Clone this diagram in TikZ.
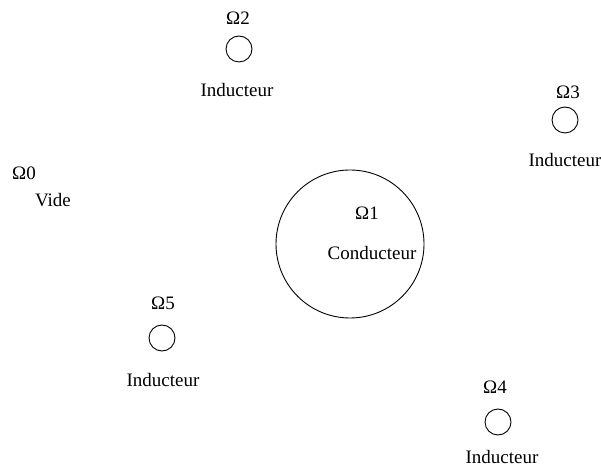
\documentclass[tikz,border=0pt]{standalone}
\usepackage{fontspec}
\setmainfont{Liberation Serif}
\begin{document}
\begin{tikzpicture}[x=1pt,y=1pt,
  lbl/.style={inner sep=0pt,font=\fontsize{19}{21}\selectfont},
  coil/.style={circle,draw,line width=0.9pt,minimum size=26pt,inner sep=0pt},
  body/.style={circle,draw,line width=0.9pt,minimum size=148pt,inner sep=0pt}]
\useasboundingbox (0,0) rectangle (601,468);
% vacuum region
\node[lbl] (o0) at (24,295) {Ω0};
\node[lbl] (v0) at (53,268) {Vide};
% conductor
\node[body] (c1) at (350,224) {};
\node[lbl] (o1) at (367,255) {Ω1};
\node[lbl] (t1) at (372,215) {Conducteur};
% inductors
\node[lbl] (o2) at (238,450) {Ω2};
\node[coil] (c2) at (239,419) {};
\node[lbl] (t2) at (237,378) {Inducteur};
\node[lbl] (o3) at (568,376) {Ω3};
\node[coil] (c3) at (565,348) {};
\node[lbl] (t3) at (565,308) {Inducteur};
\node[lbl] (o5) at (163,165) {Ω5};
\node[coil] (c5) at (162,130) {};
\node[lbl] (t5) at (163,88) {Inducteur};
\node[lbl] (o4) at (495,81) {Ω4};
\node[coil] (c4) at (498,46) {};
\node[lbl] (t4) at (502,11) {Inducteur};
\end{tikzpicture}
\end{document}
